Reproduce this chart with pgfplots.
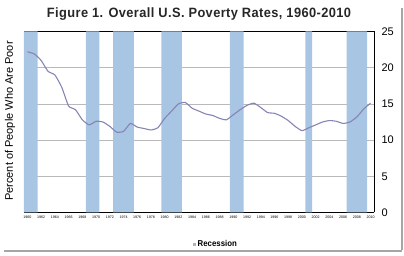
\documentclass[border=0pt]{standalone}
\usepackage{pgfplots}
\pgfplotsset{compat=1.18}
\usepackage{fontspec}
\setmainfont{Liberation Sans}
\newfontfamily\cond[FakeStretch=0.95,LetterSpace=3]{Liberation Sans}
\newfontfamily\condb[FakeStretch=1.0]{Liberation Sans}
\newfontfamily\condc[FakeStretch=0.92]{Liberation Sans}
\definecolor{recblue}{HTML}{A9C5E4}
\definecolor{povline}{HTML}{8585B5}
\begin{document}
\begin{tikzpicture}[x=1pt,y=1pt]
\path[use as bounding box] (0,0) rectangle (404,256);
% drop-shadow frame
\draw[gray!70,line width=1.6pt] (402,6) -- (402,248);
\draw[gray!70,line width=1.6pt] (4,5) -- (402,5);
\begin{axis}[
  at={(24pt,43.5pt)}, anchor=south west,
  scale only axis, width=350pt, height=181pt,
  xmin=1959.5, xmax=2010.5, ymin=0, ymax=25,
  axis y line*=right,
  axis x line*=bottom,
  xtick={1960,1962,...,2010},
  xticklabel style={font=\fontsize{3.6}{4}\selectfont, /pgf/number format/1000 sep={}},
  ytick={0,5,...,25},
  yticklabel style={font=\fontsize{11}{12}\selectfont, xshift=4pt},
  /pgf/number format/assume math mode=true,
  major tick length=0pt,
  ymajorgrids, grid style={gray!55, line width=0.7pt},
  axis line style={black, line width=0.8pt},
  clip=true,
  legend style={at={(0.548,-0.13)}, anchor=north, draw=none, fill=none,
    font=\condc\fontsize{8.5}{9}\selectfont\bfseries, legend columns=1},
  legend image code/.code={\fill[recblue!80!gray] (0pt,-1.5pt) rectangle (3pt,1.5pt);},
]
\draw[black, line width=0.8pt] (axis cs:1959.5,0) rectangle (axis cs:2010.5,25);
\addplot[ybar, bar width=1, bar shift=0, fill=recblue, draw=none] coordinates {
(1960,25) (1961,25)
(1969,25) (1970,25)
(1973,25) (1974,25) (1975,25)
(1980,25) (1981,25) (1982,25)
(1990,25) (1991,25)
(2001,25)
(2007,25) (2008,25) (2009,25)
};
\addlegendentry{Recession}
\addplot[povline, line width=1.1pt, smooth, tension=0.3, mark=none, forget plot] coordinates {
(1960,22.2) (1961,21.9) (1962,21.0) (1963,19.5) (1964,19.0) (1965,17.3)
(1966,14.7) (1967,14.2) (1968,12.8) (1969,12.1) (1970,12.6) (1971,12.5)
(1972,11.9) (1973,11.1) (1974,11.2) (1975,12.3) (1976,11.8) (1977,11.6)
(1978,11.4) (1979,11.7) (1980,13.0) (1981,14.0) (1982,15.0) (1983,15.2)
(1984,14.4) (1985,14.0) (1986,13.6) (1987,13.4) (1988,13.0) (1989,12.8)
(1990,13.5) (1991,14.2) (1992,14.8) (1993,15.1) (1994,14.5) (1995,13.8)
(1996,13.7) (1997,13.3) (1998,12.7) (1999,11.9) (2000,11.3) (2001,11.7)
(2002,12.1) (2003,12.5) (2004,12.7) (2005,12.6) (2006,12.3) (2007,12.5)
(2008,13.2) (2009,14.3) (2010,15.1)
};
\end{axis}
\node[font=\cond\fontsize{13.5}{15}\selectfont\bfseries, text=black!85] at (199,242) {Figure 1. Overall U.S. Poverty Rates, 1960-2010};
\node[font=\condb\fontsize{11}{12}\selectfont, rotate=90] at (10,135) {Percent of People Who Are Poor};
\end{tikzpicture}
\end{document}
